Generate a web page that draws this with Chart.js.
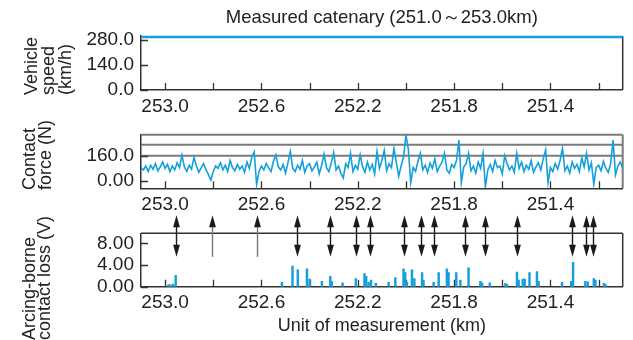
<!DOCTYPE html>
<html>
<head>
<meta charset="utf-8">
<script src="https://cdn.jsdelivr.net/npm/chart.js@4.4.0/dist/chart.umd.min.js"></script>
<style>
  html, body { margin: 0; padding: 0; background: #fff; }
  #wrap { position: relative; width: 633px; height: 340px; }
  #wrap canvas { position: absolute; left: 0; top: 0; }
</style>
</head>
<body>
<div id="wrap">
  <canvas id="speedChart" width="633" height="340"></canvas>
  <canvas id="forceChart" width="633" height="340"></canvas>
  <canvas id="arcChart" width="633" height="340"></canvas>
</div>
<script>
// shared km axis (reversed, 253.1 -> 251.1)
const kmMin = 251.1, kmMax = 253.1;
const kmTicks = [253.0, 252.8, 252.6, 252.4, 252.2, 252.0, 251.8, 251.6, 251.4, 251.2];
const kmTickLabels = ['253.0', '', '252.6', '', '252.2', '', '251.8', '', '251.4', ''];

// vehicle speed
const speedKm = [253.1, 252.6, 252.1, 251.6, 251.1];
const speedKmh = [295, 295, 295, 295, 295];
const speedTicks = [0, 70, 140, 210, 280];
const speedTickLabels = ['0.0', '', '140.0', '', '280.0'];

// contact force, one sample every 0.01 km from 253.1 km
const forceStartKm = 253.1, forceStepKm = 0.01;
const forceN = [
  85, 70, 95, 60, 100, 75, 110, 65, 90, 120,
  80, 105, 60, 95, 70, 115, 85, 164, 90, 60,
  100, 75, 150, 95, 55, 85, 110, 70, 40, 6,
  60, 95, 80, 115, 70, 100, 60, 130, 85, 65,
  105, 75, 95, 55, 120, 80, 150, 183, -21, 60,
  95, 70, 110, 85, 60, 125, 165, 90, 70, 105,
  50, 115, 186, 80, 60, 100, 75, 130, 55, 95,
  110, 65, 90, 120, 45, 100, 170, 85, 60, 115,
  180, 70, 95, 50, 20, 110, 85, 175, 60, 100,
  75, 165, 90, 55, 120, 70, 105, 45, 186, 80,
  130, 193, 65, 110, 85, 207, 120, 30, 95, 150,
  291, 200, -10, 85, 60, 125, 175, 70, 100, 55,
  115, 80, 140, 60, 95, 120, 175, 70, 50, 105,
  85, 130, 259, -10, 90, 110, 175, 65, 95, 50,
  120, 80, 175, -36, 70, 105, 60, 130, 85, 95,
  45, 160, 110, 70, 95, 55, 175, 80, 120, 60,
  100, 75, 130, 55, 90, 115, 70, 140, 196, -10,
  85, 60, 110, 75, 130, 207, 65, 95, 50, 120,
  80, 105, 60, 145, 90, 175, 70, 115, -20, 85,
  100, 65, 125, 80, 55, 110, 259, 40, 95, 120,
  80
];
const forceTicks = [0, 80, 160, 240];
const forceTickLabels = ['0.00', '', '160.0', ''];
const forceLimits = [160, 230];

// arcing-borne contact loss
const arcKm = [252.986, 252.979, 252.968, 252.956, 252.515, 252.471, 252.449, 252.411, 252.400, 252.349,
  252.314, 252.308, 252.263, 252.208, 252.172, 252.165, 252.155, 252.145, 252.125, 252.072,
  252.044, 252.010, 252.003, 251.996, 251.975, 251.965, 251.933, 251.927, 251.885, 251.864,
  251.830, 251.823, 251.791, 251.774, 251.740, 251.691, 251.684, 251.652, 251.587, 251.580,
  251.539, 251.532, 251.515, 251.507, 251.487, 251.456, 251.449, 251.352, 251.314, 251.306,
  251.255, 251.245, 251.220, 251.213, 251.178, 251.171];
const arcV = [0.4, 0.3, 0.5, 2.1, 0.8, 3.8, 3.1, 3.3, 1.4, 1.0,
  1.9, 1.0, 0.7, 1.5, 2.4, 1.9, 0.8, 1.2, 0.6, 0.8,
  1.7, 3.3, 2.6, 0.8, 3.1, 1.5, 2.6, 1.2, 0.8, 2.6,
  3.3, 2.6, 2.6, 1.2, 3.5, 1.0, 0.7, 0.7, 0.6, 0.4,
  2.7, 1.2, 1.4, 1.4, 2.6, 2.8, 1.0, 0.8, 1.0, 4.5,
  1.0, 0.9, 1.5, 1.2, 0.6, 0.4];
const arcTicks = [0, 2, 4, 6, 8];
const arcTickLabels = ['0.00', '', '4.00', '', '8.00'];

// arrows linking force peaks to arcing
const arrowKm = [252.956, 252.806, 252.619, 252.453, 252.317, 252.208, 252.148, 252.006,
  251.936, 251.885, 251.756, 251.670, 251.538, 251.310, 251.252, 251.223];
const arrowKind = ['both', 'up', 'up', 'both', 'both', 'both', 'both', 'both',
  'both', 'both', 'both', 'both', 'both', 'both', 'both', 'both'];

const BLUE = '#13a0dc';
const DARK = '#333';
const FONT = '"Liberation Sans", Arial, sans-serif';
Chart.defaults.font.family = FONT;
Chart.defaults.color = '#222';

function xScale(height, title) {
  return {
    type: 'linear', position: 'bottom', reverse: true, offset: false,
    min: kmMin, max: kmMax,
    afterBuildTicks: s => { s.ticks = kmTicks.map(v => ({ value: v })); },
    afterFit: s => { s.height = height; },
    ticks: { autoSkip: false, maxRotation: 0, padding: 5, font: { size: 19 },
      callback: (v, i) => kmTickLabels[i] },
    grid: { display: false, drawTicks: false },
    border: { display: true, color: DARK, width: 1.5 },
    title: title || { display: false }
  };
}

function yScale(min, max, ticks, labels) {
  return {
    min: min, max: max,
    afterBuildTicks: s => { s.ticks = ticks.map(v => ({ value: v })); },
    afterFit: s => { s.width = 60; },
    ticks: { padding: 7, font: { size: 19 }, callback: (v, i) => labels[i] },
    grid: { display: false, drawTicks: false },
    border: { display: true, color: DARK, width: 1.5 }
  };
}

// inner ticks, frame sides, y title
function makeFrame(cfg) {
  return {
    id: 'frame',
    beforeDatasetsDraw(chart) {
      const { ctx, chartArea: a } = chart;
      const xs = chart.scales.x, ys = chart.scales.y;
      ctx.save();
      if (cfg.limits) {
        ctx.strokeStyle = '#7a7a7a';
        ctx.lineWidth = 2;
        cfg.limits.forEach(v => {
          const py = ys.getPixelForValue(v);
          ctx.beginPath(); ctx.moveTo(a.left, py); ctx.lineTo(a.right, py); ctx.stroke();
        });
      }
      ctx.strokeStyle = DARK;
      ctx.lineWidth = 1.3;
      ctx.beginPath();
      xs.ticks.forEach(t => {
        const px = Math.round(xs.getPixelForValue(t.value)) + 0.5;
        ctx.moveTo(px, a.bottom); ctx.lineTo(px, a.bottom - 7);
      });
      ys.ticks.forEach(t => {
        const py = Math.round(ys.getPixelForValue(t.value)) + 0.5;
        ctx.moveTo(a.left, py); ctx.lineTo(a.left + 7, py);
      });
      ctx.stroke();
      ctx.strokeStyle = cfg.sideColor || DARK;
      ctx.lineWidth = cfg.sideWidth || 1.5;
      ctx.beginPath();
      if (cfg.top) { ctx.moveTo(a.left, a.top); ctx.lineTo(a.right, a.top); }
      ctx.moveTo(a.right, a.top); ctx.lineTo(a.right, a.bottom);
      ctx.stroke();
      ctx.restore();
    },
    afterDraw(chart) {
      const ctx = chart.ctx;
      ctx.save();
      ctx.fillStyle = '#222';
      ctx.font = '18px ' + FONT;
      ctx.textAlign = 'left';
      ctx.textBaseline = 'middle';
      cfg.title.forEach((line, i) => {
        ctx.save();
        ctx.translate(cfg.titleX[i], cfg.titleBottom);
        ctx.rotate(-Math.PI / 2);
        ctx.fillText(line, 0, 0);
        ctx.restore();
      });
      ctx.restore();
    }
  };
}

const arrows = {
  id: 'arrows',
  afterDraw(chart) {
    const { ctx, chartArea: a } = chart;
    const xs = chart.scales.x;
    const top = a.top - 18, bottom = a.top + 23.5;
    const head = (x, tip, dir) => {
      ctx.beginPath();
      ctx.moveTo(x, tip);
      ctx.lineTo(x - 3.4, tip - dir * 12);
      ctx.lineTo(x + 3.4, tip - dir * 12);
      ctx.closePath();
      ctx.fill();
    };
    ctx.save();
    ctx.fillStyle = '#1a1a1a';
    arrowKm.forEach((km, i) => {
      const x = Math.round(xs.getPixelForValue(km)) + 0.5;
      const both = arrowKind[i] === 'both';
      ctx.strokeStyle = both ? '#1a1a1a' : '#777';
      ctx.lineWidth = 1.4;
      ctx.beginPath();
      ctx.moveTo(x, top + 8);
      ctx.lineTo(x, both ? bottom - 8 : bottom);
      ctx.stroke();
      head(x, top, -1);
      if (both) head(x, bottom, 1);
    });
    ctx.restore();
  }
};

const base = { responsive: false, animation: false, devicePixelRatio: 1, events: [] };

new Chart(document.getElementById('speedChart'), {
  type: 'line',
  data: { datasets: [{
    data: speedKm.map((km, i) => ({ x: km, y: speedKmh[i] })),
    borderColor: BLUE, borderWidth: 2.5, pointRadius: 0, clip: false
  }] },
  options: Object.assign({}, base, {
    layout: { padding: { left: 81, right: 10.3, top: 0, bottom: 220 } },
    plugins: {
      legend: { display: false }, tooltip: { enabled: false },
      title: { display: true, text: 'Measured catenary (251.0～253.0km)', fullSize: false,
        color: '#222', font: { size: 18.5, weight: 'normal' }, padding: { top: 6.8, bottom: 7 } }
    },
    scales: { x: xScale(30), y: yScale(0, 300, speedTicks, speedTickLabels) }
  }),
  plugins: [makeFrame({ top: false, title: ['Vehicle', 'speed', '(km/h)'], titleX: [32, 49, 66], titleBottom: 95 })]
});

new Chart(document.getElementById('forceChart'), {
  type: 'line',
  data: { datasets: [{
    data: forceN.map((v, i) => ({ x: forceStartKm - i * forceStepKm, y: v })),
    borderColor: BLUE, borderWidth: 1.6, pointRadius: 0, tension: 0
  }] },
  options: Object.assign({}, base, {
    layout: { padding: { left: 81, right: 10.3, top: 134.7, bottom: 121.7 } },
    plugins: { legend: { display: false }, tooltip: { enabled: false } },
    scales: { x: xScale(30), y: yScale(-46, 293, forceTicks, forceTickLabels) }
  }),
  plugins: [makeFrame({ top: true, sideColor: '#7a7a7a', sideWidth: 2, limits: forceLimits,
    title: ['Contact', 'force (N)'], titleX: [30.5, 46.5], titleBottom: 190 })]
});

new Chart(document.getElementById('arcChart'), {
  type: 'bar',
  data: { datasets: [{
    data: arcKm.map((km, i) => ({ x: km, y: arcV[i] })),
    backgroundColor: BLUE, barThickness: 1.8, grouped: false
  }] },
  options: Object.assign({}, base, {
    layout: { padding: { left: 81, right: 10.3, top: 233.3, bottom: 0.3 } },
    plugins: { legend: { display: false }, tooltip: { enabled: false } },
    scales: {
      x: xScale(53, { display: true, text: 'Unit of measurement (km)', color: '#222',
        font: { size: 18 }, padding: { top: 0, bottom: 3 } }),
      y: yScale(0, 9.85, arcTicks, arcTickLabels)
    }
  }),
  plugins: [makeFrame({ top: true, title: ['Arcing-borne', 'contact loss (V)'], titleX: [30, 45.5], titleBottom: 340 }), arrows]
});
</script>
</body>
</html>
